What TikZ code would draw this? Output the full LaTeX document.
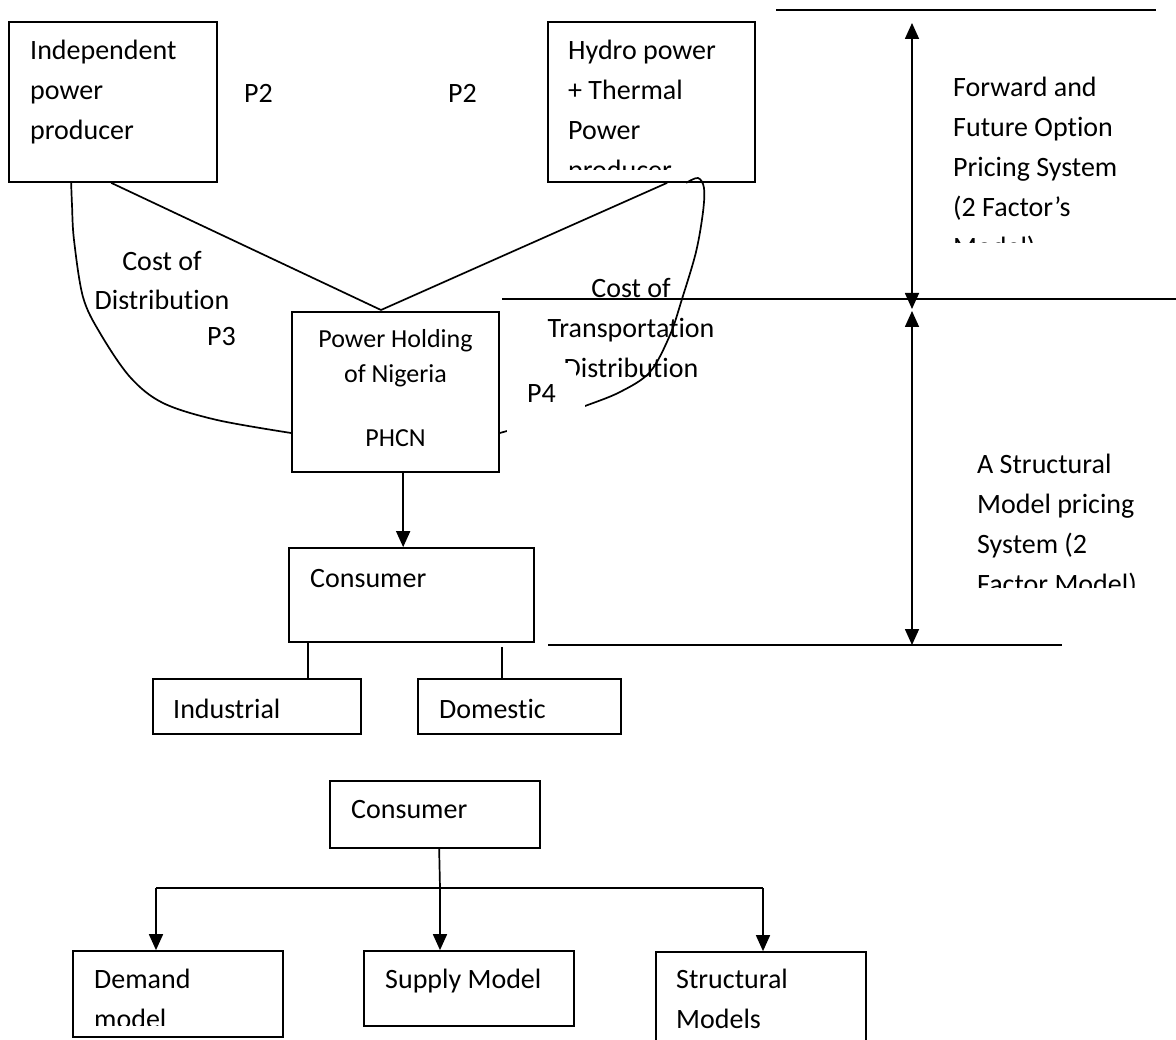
\documentclass[tikz,border=0pt]{standalone}
\usepackage{fontspec}
\setmainfont{Carlito}[Ligatures={NoCommon}]
\usetikzlibrary{arrows.meta,calc}
\begin{document}
\begin{tikzpicture}[x=1pt,y=-1pt,
  box/.style={draw, line width=1.7pt, rectangle, inner sep=0pt},
  txt/.style={font=\fontsize{28}{40}\selectfont, inner sep=0pt, anchor=base west, align=left},
  ctxt/.style={font=\fontsize{28}{40}\selectfont, inner sep=0pt, anchor=base, align=center},
  stxt/.style={font=\fontsize{26}{36}\selectfont, inner sep=0pt, anchor=base, align=center},
  ln/.style={line width=1.7pt},
  arr/.style={ln, -{Triangle[width=14pt,length=16pt]}},
  darr/.style={ln, {Triangle[width=14pt,length=16pt]}-{Triangle[width=14pt,length=16pt]}},
  cover/.style={fill=white, draw=none, inner sep=0pt}
]
\useasboundingbox (0,0) rectangle (1176,1040);
\clip (0,0) rectangle (1176,1040);

% ---------- boxes ----------
\node[box, minimum width=208pt, minimum height=160pt] (ipp) at (113,102) {};
\node[box, minimum width=207pt, minimum height=160pt] (hydro) at (651.5,102) {};
\node[box, minimum width=207pt, minimum height=160pt] (phcn) at (395.5,392) {};
\node[box, minimum width=245pt, minimum height=94pt] (cons1) at (411.5,595) {};
\node[box, minimum width=208pt, minimum height=55pt] (ind) at (257,706.5) {};
\node[box, minimum width=203pt, minimum height=55pt] (dom) at (519.5,706.5) {};
\node[box, minimum width=210pt, minimum height=67pt] (cons2) at (435,814.5) {};
\node[box, minimum width=210pt, minimum height=86pt] (demand) at (178,994) {};
\node[box, minimum width=210pt, minimum height=75pt] (supply) at (469,988.5) {};
\node[box, minimum width=210pt, minimum height=120pt] (struct) at (761,1012) {};

% ---------- box texts (anchor = baseline of the last line) ----------
\node[txt] (ipptxt) at (30,140) {Independent\\power\\producer};
\begin{scope}
  \clip (548,22) rectangle (755,170);
  \node[txt] (hydrotxt) at (568,180) {Hydro power\\+ Thermal\\Power\\producer};
\end{scope}
\node[stxt] (phcntxt) at (395.5,447) {Power Holding\\of Nigeria\\[28pt]PHCN};
\node[txt] (cons1txt) at (310,587) {Consumer};
\node[txt] (indtxt) at (173,718) {Industrial};
\node[txt] (domtxt) at (439,718) {Domestic};
\node[txt] (cons2txt) at (351,818) {Consumer};
\begin{scope}
  \clip (73,951) rectangle (283,1025);
  \node[txt] (demtxt) at (94,1028) {Demand\\model};
\end{scope}
\node[txt] (suptxt) at (385,988) {Supply Model};
\node[txt] (strtxt) at (676,1028) {Structural\\Models};

% ---------- free labels ----------
\node[txt] (p2a) at (244,103) {P2};
\node[txt] (p2b) at (448,103) {P2};
\node[txt] (p3) at (207,346) {P3};
\begin{scope}
  \clip (60,230) rectangle (280,309);
  \node[ctxt, font=\fontsize{28}{39}\selectfont] (costdist) at (162,310) {Cost of\\Distribution};
\end{scope}
\begin{scope}
  \clip (930,40) rectangle (1176,243);
  \node[txt] (fwdtxt) at (953,257) {Forward and\\Future Option\\Pricing System\\(2 Factor’s\\Model)};
\end{scope}
\begin{scope}
  \clip (960,430) rectangle (1176,587);
  \node[txt] (strmtxt) at (977,593) {A Structural\\Model pricing\\System (2\\Factor Model)};
\end{scope}

% ---------- connectors from producers ----------
\coordinate (apex) at (381,310);
\draw[ln] ([xshift=103pt]ipp.south west) -- (apex);
\draw[ln] ([xshift=120pt]hydro.south west) -- (apex);

\draw[ln] plot[smooth, tension=0.55] coordinates {([xshift=63pt]ipp.south west) (72,205) (74,240) (83,297) (100,333) (130,377) (163,403) (217,420) ([yshift=-41pt]phcn.west)};
\draw[ln] plot[smooth, tension=0.55] coordinates {([xshift=139pt]hydro.south west) (698,178) (704,188) (703,212) (696,252) (682,299) (670,335) (650,372) (620,392) (585,406) (545,420) ([yshift=-41pt]phcn.east)};

% P4 text box (white) hides part of the curve
\node[cover, minimum width=78pt, minimum height=58pt] (p4box) at (546,414) {};
\node[txt] (p4) at (527,403) {P4};

% right label
\node[ctxt] (costtrans) at (631,378) {Cost of\\Transportation\\Distribution};
\node[cover, minimum width=16pt, minimum height=15pt] (dcover) at (568,371) {};

% ---------- horizontal rules and dimension arrows ----------
\coordinate (h1a) at (776,10);  \coordinate (h1b) at (1156,10);
\coordinate (h2a) at (502,299); \coordinate (h2b) at (1176,299);
\coordinate (h3a) at (548,645); \coordinate (h3b) at (1062,645);
\draw[ln] (h1a) -- (h1b);
\draw[ln] (h2a) -- (h2b);
\draw[ln] (h3a) -- (h3b);
\coordinate (v1) at (912,23);  \coordinate (v2) at (912,309);
\coordinate (v3) at (912,311); \coordinate (v4) at (912,645);
\draw[darr] (v1) -- (v2);
\draw[darr] (v3) -- (v4);

% ---------- PHCN to consumer ----------
\draw[arr] ([xshift=112pt]phcn.south west) -- ([xshift=115pt]cons1.north west);
\draw[ln] ([xshift=20pt]cons1.south west) -- ([xshift=156pt]ind.north west);
\draw[ln] ([xshift=214pt,yshift=-4pt]cons1.south west) -- ([xshift=85pt]dom.north west);

% ---------- bottom tree ----------
\coordinate (br) at (440,888);
\coordinate (brL) at (156,888);
\coordinate (brR) at (763,888);
\draw[ln] ([xshift=110pt]cons2.south west) -- (br);
\draw[ln] (brL) -- (brR);
\draw[arr] (brL) -- (brL |- demand.north);
\draw[arr] (br) -- (br |- supply.north);
\draw[arr] (brR) -- (brR |- struct.north);
\end{tikzpicture}
\end{document}
